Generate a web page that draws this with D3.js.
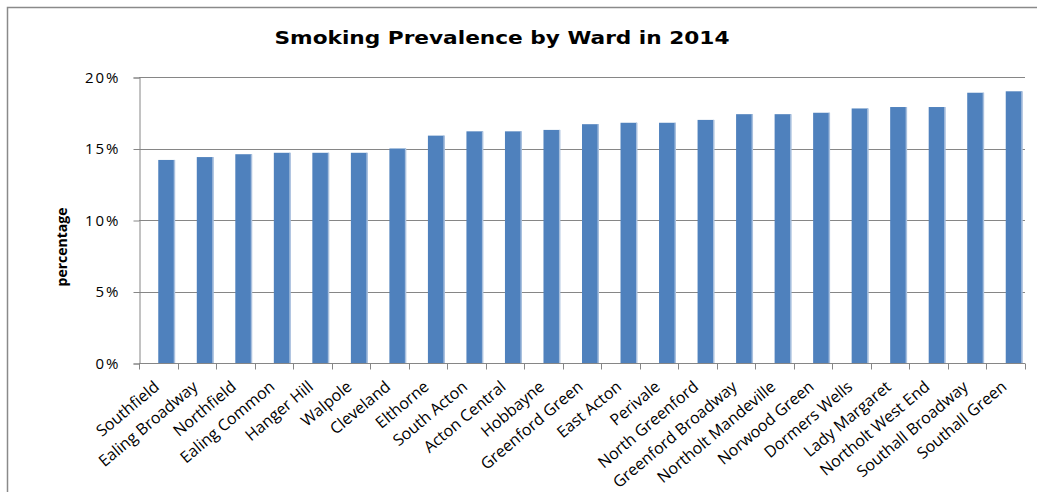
<!DOCTYPE html>
<html>
<head>
<meta charset="utf-8">
<script src="https://cdn.jsdelivr.net/npm/d3@7"></script>
<style>
    body { margin: 0; background: #fff; }
    svg { display: block; }
</style>
</head>
<body>
<svg class="chart" width="1037" height="492"></svg>
<script>

// Wards, sorted by prevalence
const wards = [
    'Southfield', 'Ealing Broadway', 'Northfield', 'Ealing Common', 'Hanger Hill',
    'Walpole', 'Cleveland', 'Elthorne', 'South Acton', 'Acton Central', 'Hobbayne',
    'Greenford Green', 'East Acton', 'Perivale', 'North Greenford', 'Greenford Broadway',
    'Northolt Mandeville', 'Norwood Green', 'Dormers Wells', 'Lady Margaret',
    'Northolt West End', 'Southall Broadway', 'Southall Green'
];

// Smoking prevalence 2014 (%)
const prevalence = [
    14.2, 14.4, 14.6, 14.7, 14.7,
    14.7, 15.0, 15.9, 16.2, 16.2, 16.3,
    16.7, 16.8, 16.8, 17.0, 17.4,
    17.4, 17.5, 17.8, 17.9,
    17.9, 18.9, 19.0
];

const yTicks = [0, 5, 10, 15, 20];

const chartTitle = 'Smoking Prevalence by Ward in 2014';
const yTitle = 'percentage';

let data = wards.map((w, i) => ({ ward: w, value: prevalence[i] }));

let svg = d3.select('svg.chart');

let font = '"Open Sans", sans-serif';

let plot = { left: 139, right: 1025, top: 77, bottom: 363 };

let x = d3.scaleBand()
    .domain(wards)
    .range([plot.left, plot.right]);

// excel leaves an empty slot on the left of each category
let xSlot = d3.scaleBand()
    .domain(['blank', 'value'])
    .range([0, x.bandwidth()])
    .paddingOuter(0.17);

let y = d3.scaleLinear()
    .domain([0, 20])
    .range([plot.bottom, plot.top]);

// outer frame (only top and left edges are in view)
svg.append('path')
    .attr('d', 'M7.5,492V7.5H1037')
    .attr('fill', 'none')
    .attr('stroke', '#8a8a8a')
    .attr('stroke-width', 1.5);

// gridlines
svg.append('g')
    .selectAll('line')
    .data(yTicks.slice(1))
    .enter()
    .append('line')
    .attr('x1', plot.left)
    .attr('x2', plot.right)
    .attr('y1', d => Math.round(y(d)) + 0.5)
    .attr('y2', d => Math.round(y(d)) + 0.5)
    .attr('stroke', '#868686')
    .attr('stroke-width', 1);

// bars
let bars = svg.append('g')
    .selectAll('g')
    .data(data)
    .enter()
    .append('g')
    .attr('transform', d => 'translate(' + (x(d.ward) + xSlot('value')) + ',0)');

bars.append('rect')
    .attr('x', 0)
    .attr('y', d => y(d.value))
    .attr('width', xSlot.bandwidth())
    .attr('height', d => plot.bottom - y(d.value))
    .attr('fill', '#4f81bd');

// light edge on the right side of each bar
bars.append('rect')
    .attr('x', xSlot.bandwidth() - 1)
    .attr('y', d => y(d.value))
    .attr('width', 1.5)
    .attr('height', d => plot.bottom - y(d.value))
    .attr('fill', '#a9c0de');

// y axis
let yAxis = svg.append('g')
    .attr('transform', 'translate(' + (plot.left + 0.5) + ',0.5)')
    .call(d3.axisLeft(y)
        .tickValues(yTicks)
        .tickFormat(d => d + '%')
        .tickSizeOuter(0)
        .tickSize(6)
        .tickPadding(13));

yAxis.select('.domain').attr('stroke', '#868686');
yAxis.selectAll('.tick line').attr('stroke', '#868686');
yAxis.selectAll('text')
    .attr('font-family', font)
    .attr('font-size', 15)
    .attr('letter-spacing', 2)
    .attr('fill', '#000');

// x axis
let xAxis = svg.append('g')
    .attr('transform', 'translate(0,' + (plot.bottom + 0.5) + ')');

xAxis.append('line')
    .attr('x1', plot.left)
    .attr('x2', plot.right)
    .attr('stroke', '#868686');

xAxis.selectAll('line.tick')
    .data(wards.concat(['end']))
    .enter()
    .append('line')
    .attr('class', 'tick')
    .attr('x1', (d, i) => Math.round(plot.left + i * x.step()) + 0.5)
    .attr('x2', (d, i) => Math.round(plot.left + i * x.step()) + 0.5)
    .attr('y1', 0)
    .attr('y2', 6)
    .attr('stroke', '#868686');

xAxis.selectAll('text')
    .data(wards)
    .enter()
    .append('text')
    .attr('transform', d => 'translate(' + (x(d) + x.bandwidth() / 2 + 2) + ',25) rotate(-40)')
    .attr('text-anchor', 'end')
    .attr('font-family', font)
    .attr('font-size', 16)
    .attr('fill', '#000')
    .text(d => d);

// titles
svg.append('text')
    .attr('x', 502)
    .attr('y', 44)
    .attr('text-anchor', 'middle')
    .attr('font-family', '"DejaVu Sans", sans-serif')
    .attr('font-weight', 'bold')
    .attr('font-size', 18)
    .attr('textLength', 455)
    .attr('lengthAdjust', 'spacingAndGlyphs')
    .text(chartTitle);

svg.append('text')
    .attr('transform', 'translate(67,247) rotate(-90)')
    .attr('text-anchor', 'middle')
    .attr('font-family', font)
    .attr('font-weight', 'bold')
    .attr('font-size', 14)
    .text(yTitle);

</script>
</body>
</html>
